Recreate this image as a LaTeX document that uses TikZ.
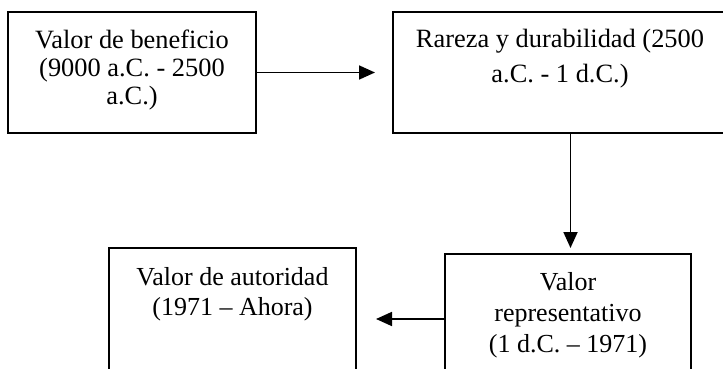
\documentclass[tikz,border=0pt]{standalone}
\usepackage{fontspec}
\setmainfont{Liberation Serif}
\usetikzlibrary{arrows.meta}
\tikzset{
  box/.style={draw, line width=1.9pt, inner sep=0pt, minimum width=#1},
  lbl/.style={inner sep=0pt, anchor=north, align=center},
  arr/.style={line width=1.8pt, -{Triangle[length=16pt,width=14pt]}}
}
\begin{document}
\begin{tikzpicture}[x=1pt,y=-1pt]
\useasboundingbox (0,0) rectangle (723,369);
% boxes
\node[box=248pt, minimum height=121pt] (b1) at (132,72.5) {};
\node[box=334pt, minimum height=121pt] (b2) at (560,72.5) {};
\node[box=247pt, minimum height=152pt] (b3) at (232.5,324) {};
\node[box=246pt, minimum height=146pt] (b4) at (568,327) {};
% texts
\node[lbl, font=\fontsize{26.4}{28}\selectfont] (t1) at (132,30) {Valor de beneficio\\(9000 a.C. - 2500\\a.C.)};
\node[lbl, font=\fontsize{26.4}{35}\selectfont] (t2) at (560,28.5) {Rareza y durabilidad (2500\\a.C. - 1 d.C.)};
\node[lbl, font=\fontsize{26}{30}\selectfont] (t3) at (232.5,267) {Valor de autoridad\\(1971 – Ahora)};
\node[lbl, font=\fontsize{26}{31}\selectfont] (t4) at (568,272) {Valor\\representativo\\(1 d.C. – 1971)};
% arrow ends
\coordinate (e1) at (375,72.5);
\coordinate (e2) at (570.5,248);
\coordinate (e3) at (376,319);
\draw[arr] (b1.east) -- (e1);
\draw[arr] (b2.south -| e2) -- (e2);
\draw[arr] (b4.west |- e3) -- (e3);
\end{tikzpicture}
\end{document}
